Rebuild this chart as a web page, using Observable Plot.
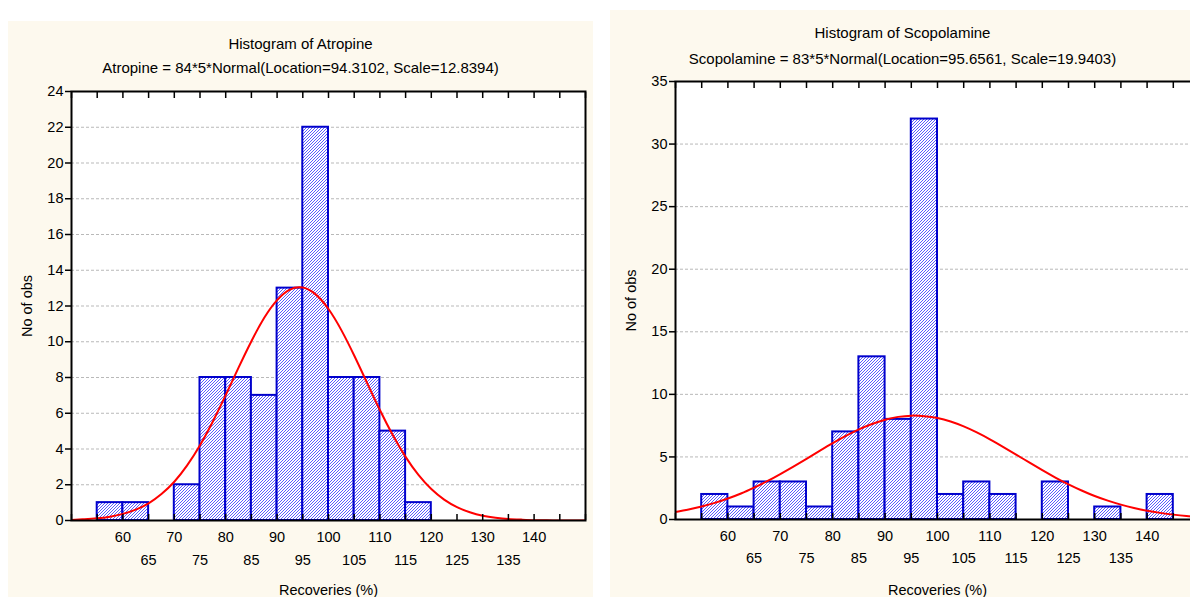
<!DOCTYPE html>
<html><head><meta charset="utf-8">
<script src="https://cdn.jsdelivr.net/npm/d3@7"></script>
<script src="https://cdn.jsdelivr.net/npm/@observablehq/plot@0.6"></script>
<style>
html,body{margin:0;padding:0;background:#fff;overflow:hidden;width:1190px;height:597px;}
.panel{position:absolute;background:#fdf9ee;overflow:hidden}
.panel svg{position:absolute;left:0;top:0;overflow:visible}
.t{position:absolute;left:0;width:585px;text-align:center;font-family:"Liberation Sans",Arial,sans-serif;font-size:15px;color:#000;white-space:nowrap;line-height:16px}
</style></head><body>
<div id="L" class="panel" style="left:8px;top:21px;width:585px;height:576px">
  <div class="t" style="top:15px">Histogram of Atropine</div>
  <div class="t" style="top:39px">Atropine = 84*5*Normal(Location=94.3102, Scale=12.8394)</div>
</div>
<div id="R" class="panel" style="left:610px;top:10px;width:600px;height:587px">
  <div class="t" style="top:15px">Histogram of Scopolamine</div>
  <div class="t" style="top:41px">Scopolamine = 83*5*Normal(Location=95.6561, Scale=19.9403)</div>
</div>
<script>
// ---- data ----
const binWidth = 5;
const atropineBinStarts = [55, 60, 65, 70, 75, 80, 85, 90, 95, 100, 105, 110, 115];
const atropineCounts    = [1, 1, 0, 2, 8, 8, 7, 13, 22, 8, 8, 5, 1];
const scopolamineBinStarts = [55, 60, 65, 70, 75, 80, 85, 90, 95, 100, 105, 110, 115, 120, 125, 130, 135, 140];
const scopolamineCounts    = [2, 1, 3, 3, 1, 7, 13, 8, 32, 2, 3, 2, 0, 3, 0, 1, 0, 2];
// fitted normal curves, read along x
const curveX = [50, 52.5, 55, 57.5, 60, 62.5, 65, 67.5, 70, 72.5, 75, 77.5, 80, 82.5, 85, 87.5, 90, 92.5, 95, 97.5,
  100, 102.5, 105, 107.5, 110, 112.5, 115, 117.5, 120, 122.5, 125, 127.5, 130, 132.5, 135, 137.5, 140, 142.5, 145, 147.5, 150];
const atropineFit = [0.03, 0.07, 0.12, 0.21, 0.37, 0.61, 0.96, 1.48, 2.17, 3.08, 4.21, 5.54, 7.01, 8.55, 10.03, 11.34, 12.33, 12.92, 13.03, 12.65,
  11.83, 10.65, 9.23, 7.70, 6.18, 4.78, 3.56, 2.55, 1.76, 1.17, 0.75, 0.46, 0.27, 0.16, 0.09, 0.05, 0.02, 0.01, 0, 0, 0];
const scopolamineFit = [0.60, 0.80, 1.04, 1.33, 1.68, 2.08, 2.55, 3.06, 3.63, 4.23, 4.85, 5.48, 6.10, 6.68, 7.20, 7.63, 7.97, 8.20, 8.30, 8.26,
  8.11, 7.83, 7.44, 6.96, 6.41, 5.81, 5.19, 4.56, 3.94, 3.35, 2.81, 2.32, 1.88, 1.51, 1.19, 0.92, 0.70, 0.53, 0.39, 0.28, 0.20];
const xDomain = [50, 150];
const xTickMarks = [50, 55, 60, 65, 70, 75, 80, 85, 90, 95, 100, 105, 110, 115, 120, 125, 130, 135, 140, 145, 150];
const xLabelsRow1 = [60, 70, 80, 90, 100, 110, 120, 130, 140];
const xLabelsRow2 = [65, 75, 85, 95, 105, 115, 125, 135];
const atropineYTicks = [0, 2, 4, 6, 8, 10, 12, 14, 16, 18, 20, 22, 24];
const scopolamineYTicks = [0, 5, 10, 15, 20, 25, 30, 35];
const xTitle = "Recoveries (%)";
const yTitle = "No of obs";

function makeChart(o) {
  const bars = o.starts.map((s, i) => ({x1: s, x2: s + binWidth, y: o.counts[i]})).filter(d => d.y > 0);
  const pts = curveX.map((x, i) => ({x, y: o.fit[i]}));
  const yt = o.yTicks;
  const svg = Plot.plot({
    width: o.width, height: o.height,
    marginLeft: o.mL, marginTop: o.mT, marginRight: o.mR, marginBottom: o.mB,
    style: {background: "transparent", fontFamily: "'Liberation Sans', Arial, sans-serif", fontSize: "14.5px", color: "#000", overflow: "visible"},
    x: {domain: xDomain},
    y: {domain: [yt[0], yt[yt.length - 1]]},
    marks: [
      Plot.frame({fill: "white", stroke: null}),
      Plot.gridY(yt.slice(1, -1), {stroke: "#b9b9b9", strokeOpacity: 1, strokeDasharray: "3,2"}),
      Plot.rectY(bars, {x1: "x1", x2: "x2", y: "y", fill: `url(#hatch-${o.id})`, stroke: "#0000cc", strokeWidth: 2}),
      Plot.line(pts, {x: "x", y: "y", stroke: "#ff0000", strokeWidth: 2, curve: "natural", clip: "frame"}),
      Plot.frame({stroke: "#000", strokeWidth: 2}),
      Plot.axisY(yt, {anchor: "left", tickSize: 6, tickPadding: 2, strokeWidth: 1.5, label: yTitle, labelAnchor: "center", labelArrow: "none", labelOffset: o.yLabelOffset, fontSize: 14.5}),
      Plot.axisX(xTickMarks, {anchor: "bottom", tickSize: -6, strokeWidth: 1.5, tickFormat: () => "", label: null}),
      Plot.axisX(xTickMarks, {anchor: "top", tickSize: -6, strokeWidth: 1.5, tickFormat: () => "", label: null}),
      Plot.axisX(xLabelsRow1, {anchor: "bottom", tickSize: 0, tickPadding: o.row1Pad, label: null}),
      Plot.axisX(xLabelsRow2, {anchor: "bottom", tickSize: 0, tickPadding: o.row2Pad, label: xTitle, labelAnchor: "center", labelArrow: "none", labelOffset: o.xLabelOffset})
    ]
  });
  d3.select(svg).insert("defs", ":first-child").html(
    `<pattern id="hatch-${o.id}" patternUnits="userSpaceOnUse" width="3" height="3">` +
    `<rect width="3" height="3" fill="#ffffff"/>` +
    `<path d="M-1,1 l2,-2 M0,3 l3,-3 M2,4 l2,-2" stroke="#5c5cff" stroke-width="1"/></pattern>`);
  document.getElementById(o.id).appendChild(svg);
}

makeChart({id: "L", starts: atropineBinStarts, counts: atropineCounts, fit: atropineFit, yTicks: atropineYTicks,
  width: 585, height: 576, mL: 63, mT: 70, mR: 8, mB: 77, row1Pad: 11, row2Pad: 34, yLabelOffset: 50, xLabelOffset: 74});
makeChart({id: "R", starts: scopolamineBinStarts, counts: scopolamineCounts, fit: scopolamineFit, yTicks: scopolamineYTicks,
  width: 599, height: 587, mL: 65, mT: 71, mR: 10, mB: 78, row1Pad: 11, row2Pad: 33, yLabelOffset: 50, xLabelOffset: 75});
</script>
</body></html>
